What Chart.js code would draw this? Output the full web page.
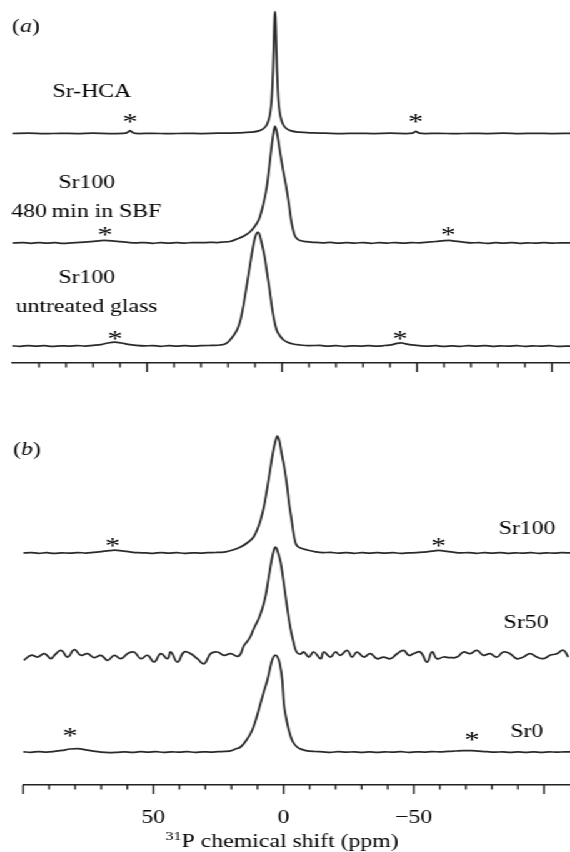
<!DOCTYPE html>
<html lang="en">
  <head>
    <meta charset="UTF-8" />
    <title>31P MAS NMR</title>
    <style>
      html, body { margin: 0; padding: 0; background: #fff; }
      /* the original figure is stretched sideways, so the whole figure is too */
      #figura { position: relative; width: 456px; height: 852px; transform: scaleX(1.25); transform-origin: 0 0; }
      #panelA { position: absolute; left: 0; top: 0; }
      #panelB { position: absolute; left: 0; top: 390px; }
    </style>
  </head>
  <body>
    <div id="figura">
      <canvas id="panelA" width="456" height="380"></canvas>
      <canvas id="panelB" width="456" height="462"></canvas>
    </div>

    <script src="https://cdn.jsdelivr.net/npm/chart.js"></script>

    <script>
      // ---- data: [shift (ppm), intensity above own baseline] ----
      const srHCA = [[100,0],[94,0.3],[88,-0.2],[82,0.2],[76,-0.1],[70,0.3],[64,0],[59,0.2],[57.5,0.6],[56.9,1.8],[56.3,2.8],[55.7,1.8],[55,0.5],[53,0],[48,0.2],[42,-0.2],[36,0.2],[30,0],[24,0.3],[19.2,0.4],[16.6,0.6],[11.6,1.3],[8.6,2.6],[6.6,5.5],[5.6,9],[4.8,15],[4.3,22],[3.9,32],[3.6,46],[3.35,63],[3.1,86],[2.9,106],[2.75,117],[2.6,122],[2.45,117],[2.3,106],[2.1,86],[1.85,63],[1.6,46],[1.3,32],[0.9,22],[0.4,15],[-0.4,9],[-1.4,5.5],[-3.4,2.6],[-6.4,1.3],[-11.4,0.6],[-16,0.3],[-22,-0.1],[-28,0.2],[-34,0],[-40,0.3],[-46,0],[-48.3,0.4],[-49,1.4],[-49.5,2.2],[-50.1,1.4],[-50.8,0.4],[-53,0],[-58,0.2],[-64,-0.2],[-70,0.2],[-76,0],[-82,0.3],[-88,-0.1],[-94,0.2],[-100,0],[-106.7,0.1]];

      const sr100SBF = [[100,0],[96,0.5],[93,-0.3],[90,0.4],[87,-0.2],[84,0.3],[81,-0.4],[78,0.2],[75,0.6],[72,1.1],[69,1.8],[66,2.6],[63,2.2],[60,1.4],[57,0.6],[54,0.1],[51,0.5],[48,-0.3],[45,0.3],[42,-0.2],[39,0.4],[36,0],[33,0.5],[30,0.3],[27,0.6],[24,0.5],[21.5,1],[19.3,1.5],[16.7,4],[14.1,7],[11.9,11],[10,17],[8.5,24],[7,38],[5.6,57],[4.1,91],[3.3,108],[2.6,117],[1.85,110],[0.74,91],[-0.37,73],[-1.5,57],[-2.6,38],[-3.3,24],[-4.1,13],[-4.8,7],[-5.7,4],[-6.7,2.5],[-8.9,1.3],[-12,0.6],[-15,0.2],[-18,0.6],[-21,-0.2],[-24,0.4],[-27,0],[-30,0.5],[-33,-0.3],[-36,0.3],[-39,0],[-42,0.5],[-45,-0.2],[-48,0.3],[-51,0.2],[-54,0.8],[-57,1.5],[-60,2.3],[-62,2.6],[-64,1.8],[-67,0.9],[-70,0.1],[-73,0.4],[-76,-0.4],[-79,0.3],[-82,-0.2],[-85,0.4],[-88,-0.3],[-91,0.2],[-94,-0.2],[-97,0.5],[-100,-0.2],[-103,0.2],[-106.7,0]];

      const sr100Glass = [[100,0.2],[97,-0.3],[94,0.4],[91,-0.2],[88,0.3],[85,-0.4],[82,0.2],[79,-0.1],[76,0.5],[73,0],[70,0.6],[67,1.4],[64.5,3],[62,3.8],[59.5,3],[57,1.6],[54,0.6],[51,0.1],[48,0.4],[45,-0.3],[42,0.3],[39,-0.1],[36,0.4],[33,0],[30,0.3],[27,0.5],[25,0.6],[23,1],[21.1,2],[19.6,5],[18.1,10],[16.5,17],[15.3,27],[14.2,42],[13.1,60],[11.5,87],[10.4,104],[9.7,111],[9,114],[8.4,112],[7.8,106],[6.3,87],[5.6,74],[4.8,60],[3.9,42],[3,27],[2,16],[0.74,10],[-0.6,6],[-1.85,4],[-4.1,2],[-6.7,1],[-10,0.4],[-14,0.6],[-17,-0.2],[-20,0.3],[-23,-0.3],[-26,0.2],[-29,0],[-32,0.4],[-35,-0.2],[-38,0.5],[-40.5,1.2],[-42.5,2.6],[-44,3.2],[-45.5,2.4],[-48,1.1],[-51,0.3],[-54,-0.2],[-57,0.3],[-60,-0.4],[-63,0.2],[-66,-0.3],[-69,0.3],[-72,-0.1],[-75,0.4],[-78,-0.3],[-81,0.2],[-84,-0.2],[-87,0.3],[-90,-0.3],[-93,0.2],[-96,-0.2],[-99,0.3],[-102,-0.3],[-106.7,0]];

      const sr100 = [[100,0],[97,0.4],[94,-0.3],[91,0.3],[88,-0.4],[85,0.2],[82,-0.2],[79,0.5],[76,0],[73,0.6],[70,1.4],[67,2.3],[65,2.8],[62,2.1],[59,1.1],[56,0.3],[53,0.1],[50,-0.3],[47,0.4],[44,-0.2],[41,0.3],[38,-0.3],[35,0.2],[32,0],[29,0.4],[26,0.5],[24,0.7],[22.2,1.2],[19.5,3],[16.5,6],[14,10],[11.5,16],[10,24],[8.8,33],[7.4,48],[6.2,66],[5.1,84],[4.1,100],[3.2,111],[2.4,117],[1.6,112],[0.77,100],[-0.4,84],[-1.4,66],[-2.2,48],[-3.1,33],[-3.8,20],[-4.6,10],[-5.5,6.5],[-6.5,5],[-9.1,3],[-12.3,1.2],[-15,0.4],[-18,0.6],[-21,-0.1],[-24,0.4],[-27,-0.3],[-30,0.3],[-33,-0.2],[-36,0.4],[-39,0],[-42,0.3],[-45,-0.3],[-48,0.2],[-51,0.3],[-54,0.9],[-57,1.8],[-59.5,2.6],[-62,1.9],[-65,0.8],[-68,0.1],[-71,0.4],[-74,-0.3],[-77,0.3],[-80,-0.2],[-83,0.4],[-86,-0.3],[-89,0.2],[-92,-0.2],[-95,0.3],[-98,-0.3],[-101,0.2],[-104,-0.2],[-107,0.3],[-110,0]];

      const sr50 = [[99.7,-3.3],[96.9,1.7],[94.4,0],[91.8,3.3],[89.3,-1.7],[88,1.7],[85.4,6.7],[82.9,0],[80.3,7.3],[77.8,1.7],[75.2,3.3],[72.7,-0.7],[70.1,1.7],[67.5,-3.3],[65,1.7],[62.5,-1.7],[59.9,3.3],[57.4,5],[54.8,-1.7],[52.2,1.7],[49.7,-5],[47.1,3.3],[44.6,-1.7],[43.3,5],[40.7,-5],[38.2,5],[35.6,3.3],[33.1,-1.7],[30.5,-6.7],[28,3.3],[25.4,5],[22.9,1.7],[20.3,3.3],[17.7,0.7],[16.5,3],[15.3,11],[13.8,16],[12.6,21],[11.5,28],[9.6,38],[8.2,48],[6.9,61],[5.8,78],[4.7,95],[3.9,105],[3.1,110],[2.2,105],[1.15,95],[0.2,79],[-0.77,61],[-1.7,44],[-2.7,28],[-3.8,15],[-5,5],[-6.5,3],[-7.8,5],[-9.7,0],[-11.6,5],[-14.2,-1.7],[-15.4,5],[-18,0],[-19.9,5],[-21.8,1.7],[-24.4,6.7],[-26.3,0],[-28.2,5],[-30.8,0],[-33.3,3.3],[-35.9,-1.7],[-38.4,0],[-41,-1.7],[-43.6,3.3],[-46.1,6.7],[-48,1.7],[-49.9,3.3],[-52.5,5],[-55.1,-5],[-57,5],[-58.9,-1.7],[-61.4,0],[-64,-0.7],[-66.6,0],[-69.1,5],[-71.6,3.3],[-74.2,6.7],[-76.7,1.7],[-79.3,3.3],[-81.9,0],[-84.4,5],[-87,3.3],[-89.5,-1.7],[-92.1,0],[-94.6,3.3],[-97.2,0],[-99.7,-1.7],[-102.3,1.7],[-104.9,3.3],[-107.4,6.7],[-109.3,0]];

      const sr0 = [[100,0.2],[97,-0.3],[94,0.4],[91,0],[88,0.6],[85,1.6],[82,3],[79,3.3],[76,2.2],[73,0.8],[70,-0.2],[67,-0.6],[64,-0.3],[61,0.2],[58,-0.4],[55,0.3],[52,-0.2],[49,0.3],[46,-0.3],[43,0.2],[40,-0.2],[37,0.3],[34,-0.3],[31,0.2],[28,-0.1],[25,0.4],[22.5,0.6],[20.3,1.2],[18.5,3],[16.5,5],[14.2,12],[12,22],[10.3,35],[8.8,49],[7.5,61],[6.2,72],[4.7,89],[3.9,95],[3.1,97],[2.3,95],[1.5,89],[0.5,72],[-0.1,49],[-1,34],[-2,22],[-3.4,11],[-5.2,5],[-7,2.6],[-9,1.2],[-12,0.5],[-15,0.2],[-18,-0.3],[-21,0.3],[-24,-0.2],[-27,0.2],[-30,-0.3],[-33,0.1],[-36,-0.4],[-39,0.2],[-42,-0.2],[-45,0.3],[-48,-0.3],[-51,0.2],[-54,-0.1],[-57,0.3],[-60,0.2],[-63,0.6],[-66,1],[-69,1.5],[-72,1.4],[-75,0.8],[-78,0.3],[-81,-0.2],[-84,0.2],[-87,-0.3],[-90,0.2],[-93,-0.3],[-96,0.1],[-99,-0.3],[-102,0.2],[-105,-0.2],[-108,0.2],[-110,0]];

      // ticks and tick labels (ppm)
      const mayoresA = [50, 0, -50, -100];
      const menoresA = [90, 80, 70, 60, 40, 30, 20, 10, -10, -20, -30, -40, -60, -70, -80, -90];
      const mayoresB = [100, 50, 0, -50, -100];
      const menoresB = [90, 80, 70, 60, 40, 30, 20, 10, -10, -20, -30, -40, -60, -70, -80, -90];
      const etiquetasB = [50, 0, -50];

      // vertical offset of each trace in its panel
      const desplazamientosA = [229.5, 120, 17];
      const desplazamientosB = [232, 128, 33];

      // labels: [text, ppm, level of baseline of text]
      const textosA = [["Sr-HCA", 70.4, 266.3], ["Sr100", 72.3, 174.7], ["480\u2009min in SBF", 72.5, 146.3], ["Sr100", 72.3, 79.7], ["untreated glass", 72.4, 51.3]];
      const textosB = [["Sr100", -93.5, 251], ["Sr50", -93.1, 156.7], ["Sr0", -93.4, 48.3]];
      // spinning sidebands: [ppm, level of the asterisk centre]
      const asteriscosA = [[56.3, 244.7], [-49.5, 244.7], [65.6, 131.3], [-61.6, 132], [61.9, 28], [-43.7, 28]];
      const asteriscosB = [[65.6, 242.7], [-59.5, 242.7], [82, 52.3], [-72.3, 48.3]];

      const tinta = "#222";
      const fuente = '"Liberation Serif", "Times New Roman", serif';

      const serie = (puntos, desp, suave) => ({
        data: puntos.map(([x, y]) => ({ x: x, y: y + desp })),
        borderColor: "#2a2a2a",
        borderWidth: 1.75,
        pointRadius: 0,
        fill: false,
        tension: suave ? 0.45 : 0,
        cubicInterpolationMode: suave ? "default" : "monotone",
      });

      const anotaciones = {
        id: "anotaciones",
        afterDraw(chart, args, op) {
          const { ctx } = chart;
          const x = chart.scales.x;
          const y = chart.scales.y;
          ctx.save();
          ctx.strokeStyle = tinta;
          ctx.fillStyle = "#000";
          ctx.lineWidth = 1.4;
          const base = x.top;
          const raya = (v, largo) => {
            const px = x.getPixelForValue(v);
            ctx.beginPath();
            ctx.moveTo(px, base);
            ctx.lineTo(px, base + largo);
            ctx.stroke();
          };
          op.mayores.forEach((v) => raya(v, 9));
          op.menores.forEach((v) => raya(v, 4.5));

          ctx.font = "19px " + fuente;
          ctx.textAlign = "center";
          ctx.textBaseline = "alphabetic";
          op.textos.forEach(([t, ppm, nivel]) => {
            ctx.fillText(t, x.getPixelForValue(ppm), y.getPixelForValue(nivel));
          });

          ctx.font = "24px " + fuente;
          const m = ctx.measureText("*");
          const centro = (m.actualBoundingBoxAscent - m.actualBoundingBoxDescent) / 2;
          op.asteriscos.forEach(([ppm, nivel]) => {
            ctx.fillText("*", x.getPixelForValue(ppm), y.getPixelForValue(nivel) + centro);
          });

          // panel letter, e.g. (a) with italic letter
          ctx.textAlign = "left";
          let px = x.getPixelForValue(op.letra[1]);
          const py = y.getPixelForValue(op.letra[2]);
          [["(", ""], [op.letra[0], "italic "], [")", ""]].forEach(([t, estilo]) => {
            ctx.font = estilo + "19px " + fuente;
            ctx.fillText(t, px, py);
            px += ctx.measureText(t).width;
          });

          if (op.titulo) {
            const [ppm, nivel] = op.titulo;
            ctx.font = "13px " + fuente;
            const w1 = ctx.measureText("31").width;
            ctx.font = "19px " + fuente;
            const w2 = ctx.measureText("P chemical shift (ppm)").width;
            const inicio = x.getPixelForValue(ppm) - (w1 + w2) / 2;
            const ty = y.getPixelForValue(nivel);
            ctx.fillText("P chemical shift (ppm)", inicio + w1, ty);
            ctx.font = "13px " + fuente;
            ctx.fillText("31", inicio, ty - 7);
          }
          ctx.restore();
        },
      };

      const opciones = (cfg) => ({
        responsive: false,
        animation: false,
        events: [],
        layout: { padding: { left: cfg.izquierda, right: 0, top: 0, bottom: 0 } },
        plugins: {
          legend: { display: false },
          tooltip: { enabled: false },
          anotaciones: cfg.anot,
        },
        scales: {
          x: {
            type: "linear",
            reverse: true,
            min: cfg.min,
            max: 100,
            grid: { display: false, drawTicks: false },
            border: { display: true, color: tinta, width: 1.6 },
            afterFit: (escala) => {
              escala.height = cfg.alto;
              escala.paddingLeft = 0;
              escala.paddingRight = 0;
            },
            ticks: {
              display: cfg.etiquetas.length > 0,
              stepSize: 10,
              autoSkip: false,
              maxRotation: 0,
              padding: 22,
              color: "#000",
              font: { family: fuente, size: 19 },
              callback: (v) => (cfg.etiquetas.includes(v) ? (v < 0 ? "\u2212" + Math.abs(v) : String(v)) : ""),
            },
          },
          y: { display: false, min: 0, max: cfg.ymax },
        },
      });

      const graficoA = new Chart(document.querySelector("#panelA"), {
        type: "line",
        data: {
          datasets: [
            serie(srHCA, desplazamientosA[0]),
            serie(sr100SBF, desplazamientosA[1]),
            serie(sr100Glass, desplazamientosA[2]),
          ],
        },
        options: opciones({
          izquierda: 9.6, min: -106.7, alto: 17, ymax: 363, etiquetas: [],
          anot: { mayores: mayoresA, menores: menoresA, textos: textosA, asteriscos: asteriscosA, letra: ["a", 100, 331.4] },
        }),
        plugins: [anotaciones],
      });

      const graficoB = new Chart(document.querySelector("#panelB"), {
        type: "line",
        data: {
          datasets: [
            serie(sr100, desplazamientosB[0]),
            serie(sr50, desplazamientosB[1], true),
            serie(sr0, desplazamientosB[2]),
          ],
        },
        options: opciones({
          izquierda: 18.4, min: -110, alto: 67, ymax: 395, etiquetas: etiquetasB,
          anot: { mayores: mayoresB, menores: menoresB, textos: textosB, asteriscos: asteriscosB, letra: ["b", 103.8, 330.4], titulo: [0.57, -62] },
        }),
        plugins: [anotaciones],
      });
    </script>
  </body>
</html>
